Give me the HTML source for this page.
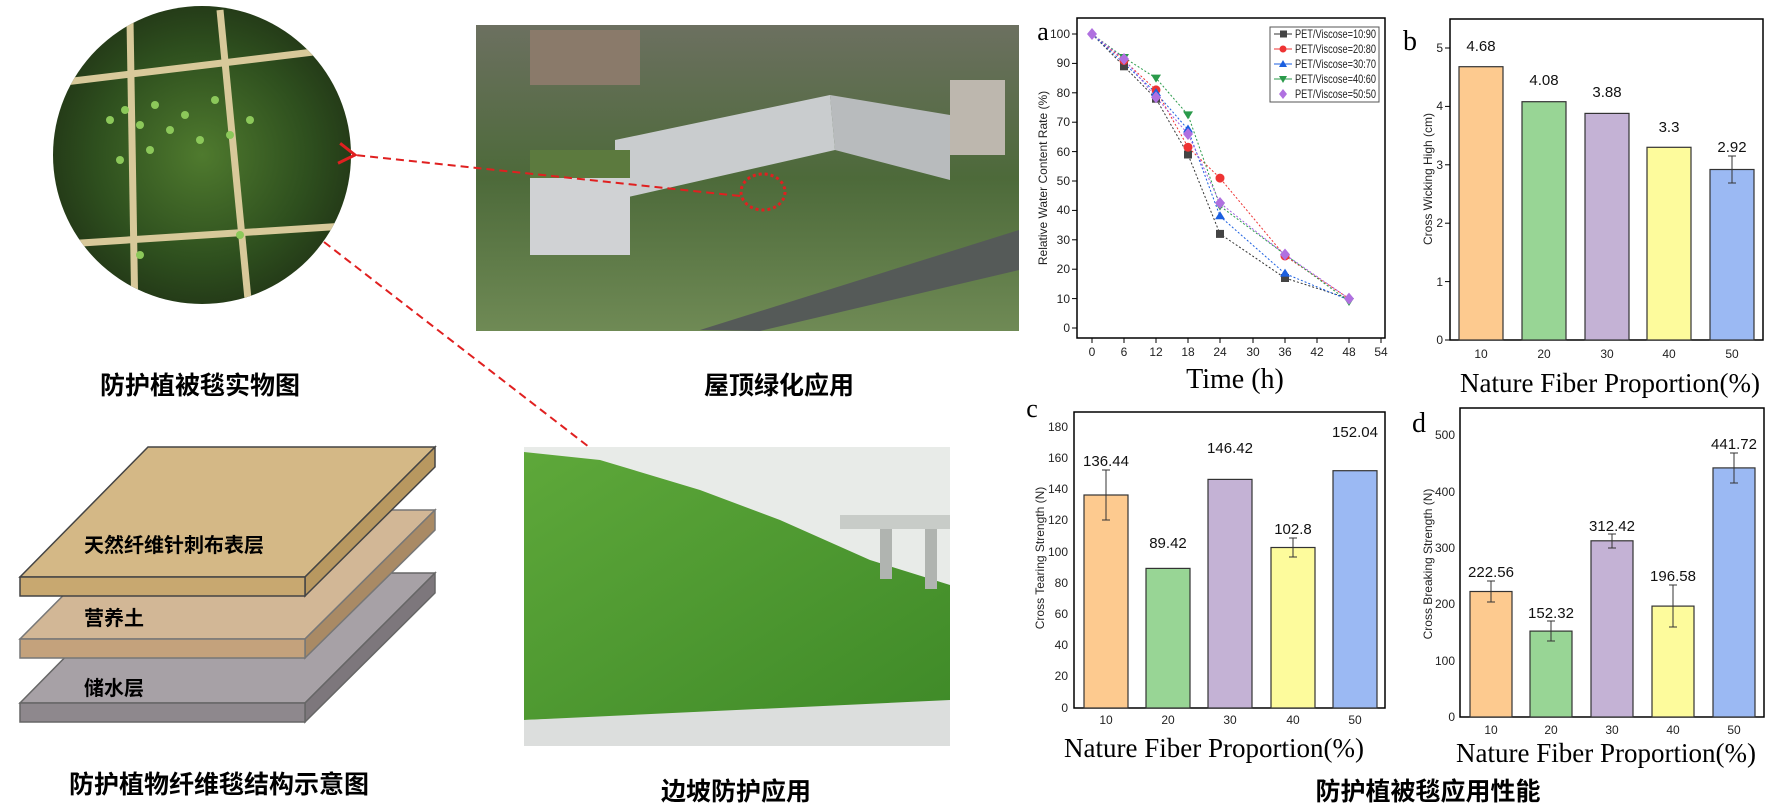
<!DOCTYPE html>
<html><head><meta charset="utf-8"><style>
html,body{margin:0;padding:0;background:#fff;}
svg{display:block;}
.cn{font-family:"Liberation Sans","Noto Sans CJK SC",sans-serif;font-weight:bold;fill:#000;}
.t{font-family:"Liberation Sans",sans-serif;font-size:12px;fill:#222;}
.v{font-family:"Liberation Sans",sans-serif;font-size:15px;fill:#111;}
.s{font-family:"Liberation Serif",serif;fill:#000;}
</style></head><body>
<svg width="1774" height="805" viewBox="0 0 1774 805" xmlns="http://www.w3.org/2000/svg">
<defs>
<radialGradient id="moss" cx="50%" cy="50%" r="60%"><stop offset="0" stop-color="#4f7a2e"/><stop offset="0.6" stop-color="#2e4f1e"/><stop offset="1" stop-color="#1e2e14"/></radialGradient>
<linearGradient id="roof" x1="0" y1="0" x2="0" y2="1"><stop offset="0" stop-color="#6c7060"/><stop offset="0.5" stop-color="#4d6a3a"/><stop offset="1" stop-color="#6f8a55"/></linearGradient>
<linearGradient id="slope" x1="0" y1="0" x2="1" y2="1"><stop offset="0" stop-color="#5ea83a"/><stop offset="1" stop-color="#3f8a28"/></linearGradient>
<clipPath id="cc"><circle cx="202" cy="155" r="149"/></clipPath>
<marker id="ah" markerWidth="12" markerHeight="12" refX="2" refY="6" orient="auto"><path d="M10,1 L2,6 L10,11" fill="none" stroke="#e02020" stroke-width="1.5"/></marker>
</defs>

<circle cx="202" cy="155" r="149" fill="url(#moss)"/>
<g clip-path="url(#cc)" stroke="#d8c99a" stroke-width="7" fill="none">
<path d="M40,85 L330,50"/><path d="M50,245 L360,225"/><path d="M130,20 L135,320"/><path d="M220,10 L250,320"/>
</g>
<g clip-path="url(#cc)" fill="#8cc85a">
<circle cx="110" cy="120" r="4"/><circle cx="125" cy="110" r="4"/><circle cx="140" cy="125" r="4"/><circle cx="155" cy="105" r="4"/><circle cx="170" cy="130" r="4"/><circle cx="185" cy="115" r="4"/><circle cx="200" cy="140" r="4"/><circle cx="215" cy="100" r="4"/><circle cx="230" cy="135" r="4"/><circle cx="150" cy="150" r="4"/><circle cx="120" cy="160" r="4"/><circle cx="250" cy="120" r="4"/><circle cx="240" cy="235" r="4"/><circle cx="140" cy="255" r="4"/>
</g>

<rect x="476" y="25" width="543" height="306" fill="url(#roof)"/>
<rect x="530" y="30" width="110" height="55" fill="#8a7a6a"/>
<polygon points="615,140 830,95 835,150 615,200" fill="#c9ccce"/>
<polygon points="830,95 950,115 950,180 835,150" fill="#b8bbbd"/>
<rect x="530" y="175" width="100" height="80" fill="#d0d2d4"/>
<rect x="530" y="150" width="100" height="28" fill="#5c7a3e"/>
<rect x="950" y="80" width="55" height="75" fill="#bdb7ae"/>
<polygon points="700,330 1019,230 1019,270 760,331" fill="#555a58"/>
<ellipse cx="763" cy="192" rx="22" ry="18" fill="none" stroke="#e02020" stroke-width="3" stroke-dasharray="3,3"/>

<line x1="740" y1="196" x2="355" y2="155" stroke="#e02020" stroke-width="2" stroke-dasharray="8,5" marker-end="url(#ah)"/>
<line x1="324" y1="242" x2="589" y2="447" stroke="#e02020" stroke-width="2" stroke-dasharray="8,5"/>

<text class="cn" x="200" y="394" font-size="25" text-anchor="middle">防护植被毯实物图</text>
<text class="cn" x="779" y="394" font-size="25" text-anchor="middle">屋顶绿化应用</text>

<polygon points="148,573 435,573 305,703 20,703" fill="#a7a1a6" stroke="#666" stroke-width="1.5"/>
<polygon points="435,573 435,593 305,722 305,703" fill="#7d777c" stroke="#666" stroke-width="1.5"/>
<rect x="20" y="703" width="285" height="19" fill="#8e888d" stroke="#666" stroke-width="1.5"/>
<polygon points="148,510 435,510 305,639 20,639" fill="#d2b796" stroke="#777" stroke-width="1.5"/>
<polygon points="435,510 435,530 305,658 305,639" fill="#a98a65" stroke="#777" stroke-width="1.5"/>
<rect x="20" y="639" width="285" height="19" fill="#c4a27c" stroke="#777" stroke-width="1.5"/>
<polygon points="148,447 435,447 305,577 20,577" fill="#d4b886" stroke="#444" stroke-width="1.5"/>
<polygon points="435,447 435,467 305,596 305,577" fill="#b89860" stroke="#444" stroke-width="1.5"/>
<rect x="20" y="577" width="285" height="19" fill="#c8a870" stroke="#444" stroke-width="1.5"/>
<text class="cn" x="84" y="552" font-size="20">天然纤维针刺布表层</text>
<text class="cn" x="84" y="625" font-size="20">营养土</text>
<text class="cn" x="84" y="695" font-size="20">储水层</text>
<text class="cn" x="219" y="793" font-size="25" text-anchor="middle">防护植物纤维毯结构示意图</text>

<rect x="524" y="447" width="426" height="299" fill="#e8ebe8"/>
<polygon points="524,452 600,460 700,490 780,520 870,560 950,585 950,705 524,720" fill="url(#slope)"/>
<rect x="840" y="515" width="110" height="14" fill="#c8ccc8"/>
<rect x="880" y="529" width="12" height="50" fill="#b0b4b0"/>
<rect x="925" y="529" width="12" height="60" fill="#b0b4b0"/>
<polygon points="524,720 950,700 950,746 524,746" fill="#dcdedd"/>
<text class="cn" x="736" y="800" font-size="25" text-anchor="middle">边坡防护应用</text>

<text class="s" x="1043" y="40" font-size="26" text-anchor="middle">a</text>
<rect x="1077" y="18" width="308" height="320" fill="none" stroke="#000" stroke-width="1.5"/>
<g stroke="#000" stroke-width="1">
<line x1="1077" y1="34" x2="1072" y2="34"/><line x1="1077" y1="63.4" x2="1072" y2="63.4"/><line x1="1077" y1="92.8" x2="1072" y2="92.8"/><line x1="1077" y1="122.2" x2="1072" y2="122.2"/><line x1="1077" y1="151.6" x2="1072" y2="151.6"/><line x1="1077" y1="181" x2="1072" y2="181"/><line x1="1077" y1="210.4" x2="1072" y2="210.4"/><line x1="1077" y1="239.8" x2="1072" y2="239.8"/><line x1="1077" y1="269.2" x2="1072" y2="269.2"/><line x1="1077" y1="298.6" x2="1072" y2="298.6"/><line x1="1077" y1="328" x2="1072" y2="328"/>
<line x1="1092" y1="338" x2="1092" y2="343"/><line x1="1124" y1="338" x2="1124" y2="343"/><line x1="1156" y1="338" x2="1156" y2="343"/><line x1="1188" y1="338" x2="1188" y2="343"/><line x1="1220" y1="338" x2="1220" y2="343"/><line x1="1253" y1="338" x2="1253" y2="343"/><line x1="1285" y1="338" x2="1285" y2="343"/><line x1="1317" y1="338" x2="1317" y2="343"/><line x1="1349" y1="338" x2="1349" y2="343"/><line x1="1381" y1="338" x2="1381" y2="343"/>
</g>
<g class="t" text-anchor="end">
<text x="1070" y="38">100</text><text x="1070" y="67">90</text><text x="1070" y="97">80</text><text x="1070" y="126">70</text><text x="1070" y="156">60</text><text x="1070" y="185">50</text><text x="1070" y="214">40</text><text x="1070" y="244">30</text><text x="1070" y="273">20</text><text x="1070" y="303">10</text><text x="1070" y="332">0</text>
</g>
<g class="t" text-anchor="middle">
<text x="1092" y="356">0</text><text x="1124" y="356">6</text><text x="1156" y="356">12</text><text x="1188" y="356">18</text><text x="1220" y="356">24</text><text x="1253" y="356">30</text><text x="1285" y="356">36</text><text x="1317" y="356">42</text><text x="1349" y="356">48</text><text x="1381" y="356">54</text>
</g>
<text class="s" x="1235" y="388" font-size="28" text-anchor="middle">Time (h)</text>
<text class="t" font-size="13.5" transform="translate(1047,178) rotate(-90)" text-anchor="middle">Relative Water Content Rate (%)</text>
<g fill="none" stroke-width="1" stroke-dasharray="2,2">
<polyline stroke="#333" points="1092,34 1124,66.3 1156,98.7 1188,154.5 1220,233.9 1285,278 1349,298.6"/>
<polyline stroke="#e33" points="1092,34 1124,60.5 1156,89.9 1188,147.2 1220,178.1 1285,256 1349,298.6"/>
<polyline stroke="#1b5fe0" points="1092,34 1124,63.4 1156,92.8 1188,129.5 1220,216.3 1285,273.6 1349,300.1"/>
<polyline stroke="#2a9a4a" points="1092,34 1124,57.5 1156,78.1 1188,114.9 1220,206 1285,254.5 1349,301.5"/>
<polyline stroke="#a060e0" points="1092,34 1124,59 1156,97.2 1188,134 1220,203 1285,254.5 1349,298.6"/>
</g>
<g fill="#444"><rect x="1120" y="62.3" width="8" height="8"/><rect x="1152" y="94.7" width="8" height="8"/><rect x="1184" y="150.5" width="8" height="8"/><rect x="1216" y="229.9" width="8" height="8"/><rect x="1281" y="274" width="8" height="8"/></g>
<g fill="#e33"><circle cx="1124" cy="60.5" r="4.5"/><circle cx="1156" cy="89.9" r="4.5"/><circle cx="1188" cy="147.2" r="4.5"/><circle cx="1220" cy="178.1" r="4.5"/><circle cx="1285" cy="256" r="4.5"/></g>
<g fill="#1b5fe0"><path d="M1156,88 l5,8 h-10z"/><path d="M1188,124.5 l5,8 h-10z"/><path d="M1220,211.3 l5,8 h-10z"/><path d="M1285,268.6 l5,8 h-10z"/></g>
<g fill="#2a9a4a"><path d="M1124,62 l5,-8 h-10z"/><path d="M1156,82.6 l5,-8 h-10z"/><path d="M1188,119.4 l5,-8 h-10z"/><path d="M1220,210.5 l5,-8 h-10z"/><path d="M1349,306 l5,-8 h-10z"/></g>
<g fill="#b070e0"><path d="M1092,28 l5,6 -5,6 -5,-6z"/><path d="M1124,53 l5,6 -5,6 -5,-6z"/><path d="M1156,91.2 l5,6 -5,6 -5,-6z"/><path d="M1188,128 l5,6 -5,6 -5,-6z"/><path d="M1220,197 l5,6 -5,6 -5,-6z"/><path d="M1285,248.5 l5,6 -5,6 -5,-6z"/><path d="M1349,292.6 l5,6 -5,6 -5,-6z"/></g>
<rect x="1270" y="27" width="109" height="75" fill="#fff" stroke="#555" stroke-width="1"/>
<g stroke-width="1"><line x1="1274" y1="34" x2="1292" y2="34" stroke="#333"/><line x1="1274" y1="49" x2="1292" y2="49" stroke="#e33"/><line x1="1274" y1="64" x2="1292" y2="64" stroke="#1b5fe0"/><line x1="1274" y1="79" x2="1292" y2="79" stroke="#2a9a4a"/></g>
<rect x="1280" y="30.5" width="7" height="7" fill="#444"/><circle cx="1283" cy="49" r="3.5" fill="#e33"/><path d="M1283,60 l4,7 h-8z" fill="#1b5fe0"/><path d="M1283,83 l4,-7 h-8z" fill="#2a9a4a"/><path d="M1283,89 l4,5 -4,5 -4,-5z" fill="#b070e0"/>
<g class="t" font-size="10"><text x="1295" y="38" textLength="81" lengthAdjust="spacingAndGlyphs">PET/Viscose=10:90</text><text x="1295" y="53" textLength="81" lengthAdjust="spacingAndGlyphs">PET/Viscose=20:80</text><text x="1295" y="68" textLength="81" lengthAdjust="spacingAndGlyphs">PET/Viscose=30:70</text><text x="1295" y="83" textLength="81" lengthAdjust="spacingAndGlyphs">PET/Viscose=40:60</text><text x="1295" y="98" textLength="81" lengthAdjust="spacingAndGlyphs">PET/Viscose=50:50</text></g>

<text class="s" x="1410" y="50" font-size="28" text-anchor="middle">b</text>
<rect x="1450" y="19" width="313" height="321" fill="none" stroke="#000" stroke-width="1.5"/>
<g stroke="#333" stroke-width="1.2">
<rect x="1459" y="66.7" width="44" height="273.3" fill="#fdca8f"/>
<rect x="1522" y="101.7" width="44" height="238.3" fill="#98d595"/>
<rect x="1585" y="113.4" width="44" height="226.6" fill="#c4b2d5"/>
<rect x="1647" y="147.3" width="44" height="192.7" fill="#fdfb9c"/>
<rect x="1710" y="169.5" width="44" height="170.5" fill="#9bb9f3"/>
</g>
<g stroke="#333" stroke-width="1"><line x1="1732" y1="156" x2="1732" y2="183"/><line x1="1728" y1="156" x2="1736" y2="156"/><line x1="1728" y1="183" x2="1736" y2="183"/></g>
<g stroke="#000"><line x1="1450" y1="48" x2="1445" y2="48"/><line x1="1450" y1="106.4" x2="1445" y2="106.4"/><line x1="1450" y1="164.8" x2="1445" y2="164.8"/><line x1="1450" y1="223.2" x2="1445" y2="223.2"/><line x1="1450" y1="281.6" x2="1445" y2="281.6"/><line x1="1450" y1="340" x2="1445" y2="340"/></g>
<g class="t" text-anchor="end"><text x="1443" y="52">5</text><text x="1443" y="110">4</text><text x="1443" y="169">3</text><text x="1443" y="227">2</text><text x="1443" y="286">1</text><text x="1443" y="344">0</text></g>
<g class="t" text-anchor="middle"><text x="1481" y="358">10</text><text x="1544" y="358">20</text><text x="1607" y="358">30</text><text x="1669" y="358">40</text><text x="1732" y="358">50</text></g>
<g class="v" text-anchor="middle"><text x="1481" y="51">4.68</text><text x="1544" y="85">4.08</text><text x="1607" y="97">3.88</text><text x="1669" y="132">3.3</text><text x="1732" y="152">2.92</text></g>
<text class="t" font-size="14" transform="translate(1432,179) rotate(-90)" text-anchor="middle">Cross Wicking High (cm)</text>
<text class="s" x="1610" y="392" font-size="27" text-anchor="middle">Nature Fiber Proportion(%)</text>

<text class="s" x="1032" y="417" font-size="26" text-anchor="middle">c</text>
<rect x="1074" y="412" width="311" height="296" fill="none" stroke="#000" stroke-width="1.5"/>
<g stroke="#333" stroke-width="1.2">
<rect x="1084" y="495" width="44" height="213" fill="#fdca8f"/>
<rect x="1146" y="568.4" width="44" height="139.6" fill="#98d595"/>
<rect x="1208" y="479.4" width="44" height="228.6" fill="#c4b2d5"/>
<rect x="1271" y="547.5" width="44" height="160.5" fill="#fdfb9c"/>
<rect x="1333" y="470.7" width="44" height="237.3" fill="#9bb9f3"/>
</g>
<g stroke="#333" stroke-width="1"><line x1="1106" y1="470" x2="1106" y2="520"/><line x1="1102" y1="470" x2="1110" y2="470"/><line x1="1102" y1="520" x2="1110" y2="520"/><line x1="1293" y1="538" x2="1293" y2="557"/><line x1="1289" y1="538" x2="1297" y2="538"/><line x1="1289" y1="557" x2="1297" y2="557"/></g>
<g class="t" text-anchor="end"><text x="1068" y="431">180</text><text x="1068" y="462">160</text><text x="1068" y="493">140</text><text x="1068" y="524">120</text><text x="1068" y="556">100</text><text x="1068" y="587">80</text><text x="1068" y="618">60</text><text x="1068" y="649">40</text><text x="1068" y="680">20</text><text x="1068" y="712">0</text></g>
<g class="t" text-anchor="middle"><text x="1106" y="724">10</text><text x="1168" y="724">20</text><text x="1230" y="724">30</text><text x="1293" y="724">40</text><text x="1355" y="724">50</text></g>
<g class="v" text-anchor="middle"><text x="1106" y="466">136.44</text><text x="1168" y="548">89.42</text><text x="1230" y="453">146.42</text><text x="1293" y="534">102.8</text><text x="1355" y="437">152.04</text></g>
<text class="t" font-size="13" transform="translate(1044,558) rotate(-90)" text-anchor="middle">Cross Tearing Strength (N)</text>
<text class="s" x="1214" y="757" font-size="27" text-anchor="middle">Nature Fiber Proportion(%)</text>

<text class="s" x="1419" y="432" font-size="28" text-anchor="middle">d</text>
<rect x="1460" y="408" width="304" height="309" fill="none" stroke="#000" stroke-width="1.5"/>
<g stroke="#333" stroke-width="1.2">
<rect x="1470" y="591.5" width="42" height="125.5" fill="#fdca8f"/>
<rect x="1530" y="631.1" width="42" height="85.9" fill="#98d595"/>
<rect x="1591" y="540.8" width="42" height="176.2" fill="#c4b2d5"/>
<rect x="1652" y="606.1" width="42" height="110.9" fill="#fdfb9c"/>
<rect x="1713" y="467.9" width="42" height="249.1" fill="#9bb9f3"/>
</g>
<g stroke="#333" stroke-width="1">
<line x1="1491" y1="581" x2="1491" y2="602"/><line x1="1487" y1="581" x2="1495" y2="581"/><line x1="1487" y1="602" x2="1495" y2="602"/>
<line x1="1551" y1="621" x2="1551" y2="641"/><line x1="1547" y1="621" x2="1555" y2="621"/><line x1="1547" y1="641" x2="1555" y2="641"/>
<line x1="1612" y1="534" x2="1612" y2="548"/><line x1="1608" y1="534" x2="1616" y2="534"/><line x1="1608" y1="548" x2="1616" y2="548"/>
<line x1="1673" y1="585" x2="1673" y2="627"/><line x1="1669" y1="585" x2="1677" y2="585"/><line x1="1669" y1="627" x2="1677" y2="627"/>
<line x1="1734" y1="453" x2="1734" y2="483"/><line x1="1730" y1="453" x2="1738" y2="453"/><line x1="1730" y1="483" x2="1738" y2="483"/>
</g>
<g class="t" text-anchor="end"><text x="1455" y="439">500</text><text x="1455" y="496">400</text><text x="1455" y="552">300</text><text x="1455" y="608">200</text><text x="1455" y="665">100</text><text x="1455" y="721">0</text></g>
<g class="t" text-anchor="middle"><text x="1491" y="734">10</text><text x="1551" y="734">20</text><text x="1612" y="734">30</text><text x="1673" y="734">40</text><text x="1734" y="734">50</text></g>
<g class="v" text-anchor="middle"><text x="1491" y="577">222.56</text><text x="1551" y="618">152.32</text><text x="1612" y="531">312.42</text><text x="1673" y="581">196.58</text><text x="1734" y="449">441.72</text></g>
<text class="t" font-size="13" transform="translate(1432,564) rotate(-90)" text-anchor="middle">Cross Breaking Strength (N)</text>
<text class="s" x="1606" y="762" font-size="27" text-anchor="middle">Nature Fiber Proportion(%)</text>

<text class="cn" x="1428" y="800" font-size="25" text-anchor="middle">防护植被毯应用性能</text>
</svg>
</body></html>
